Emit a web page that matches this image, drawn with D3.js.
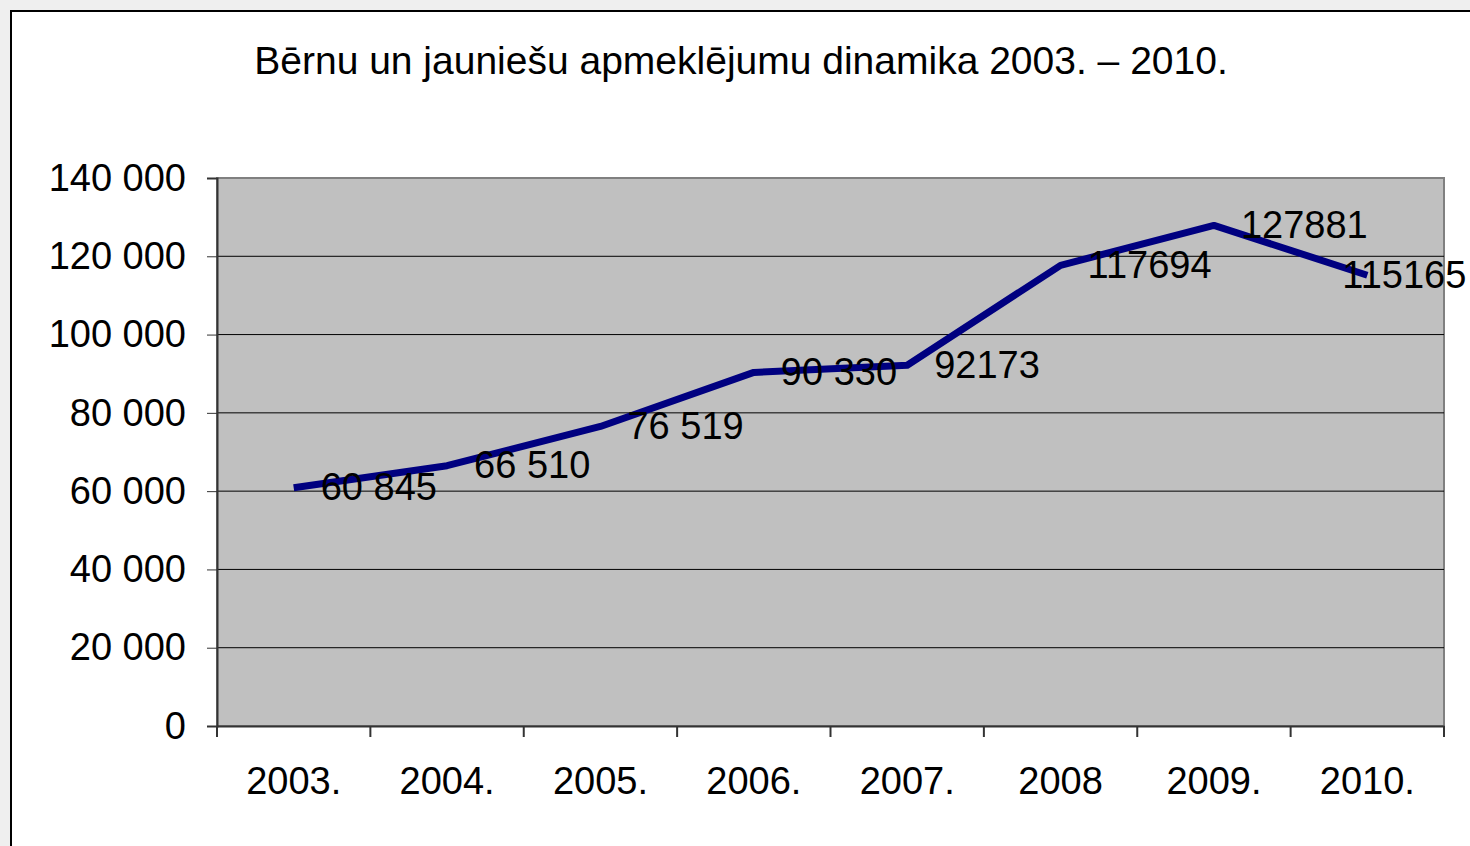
<!DOCTYPE html>
<html>
<head>
<meta charset="utf-8">
<script src="https://cdn.jsdelivr.net/npm/d3@7"></script>
<style>
  body { margin: 0; background: #efefef; }
  svg { display: block; }
</style>
</head>
<body>
<div id="chart"></div>
<script>
let years = ["2003.", "2004.", "2005.", "2006.", "2007.", "2008", "2009.", "2010."];
let visits = [60845, 66510, 76519, 90330, 92173, 117694, 127881, 115165];
let valueLabels = ["60 845", "66 510", "76 519", "90 330", "92173", "117694", "127881", "115165"];
let yTicks = [0, 20000, 40000, 60000, 80000, 100000, 120000, 140000];
let title = "Bērnu un jauniešu apmeklējumu dinamika 2003. – 2010.";

let width = 1470, height = 846;
let plot = {left: 217, right: 1444, top: 178, bottom: 726};

let svg = d3.select("#chart").append("svg")
    .attr("width", width)
    .attr("height", height)
    .style("font-family", "'Liberation Sans', Arial, sans-serif");

// chart frame
svg.append("rect")
    .attr("x", 11).attr("y", 11)
    .attr("width", width).attr("height", height)
    .attr("fill", "white")
    .attr("stroke", "black")
    .attr("stroke-width", 2);

svg.append("text")
    .attr("x", 741).attr("y", 74)
    .attr("text-anchor", "middle")
    .attr("font-size", 39)
    .text(title);

let x = d3.scaleBand()
    .domain(years)
    .range([plot.left, plot.right]);

let y = d3.scaleLinear()
    .domain([0, 140000])
    .range([plot.bottom, plot.top]);

// plot area
svg.append("rect")
    .attr("x", plot.left).attr("y", plot.top)
    .attr("width", plot.right - plot.left)
    .attr("height", plot.bottom - plot.top)
    .attr("fill", "#c0c0c0")
    .attr("stroke", "#808080")
    .attr("stroke-width", 2);

// gridlines
svg.append("g")
    .selectAll("line")
    .data(yTicks.filter(t => t > 0 && t < 140000))
    .join("line")
    .attr("x1", plot.left).attr("x2", plot.right)
    .attr("y1", d => y(d)).attr("y2", d => y(d))
    .attr("stroke", "black")
    .attr("stroke-width", 1);

let fmt = d => d3.format(",")(d).replace(/,/g, " ");

// y axis
let yAxis = svg.append("g")
    .attr("transform", `translate(${plot.left},0)`)
    .call(d3.axisLeft(y).tickValues(yTicks).tickFormat(fmt).tickSize(10).tickPadding(21));
yAxis.selectAll("text").attr("font-size", 38).attr("fill", "black").attr("font-family", "'Liberation Sans', Arial, sans-serif");
yAxis.selectAll("line").attr("stroke", "#333");
yAxis.select(".domain").attr("stroke", "#333").attr("stroke-width", 2);

// x axis with ticks at category boundaries
let xAxis = svg.append("g")
    .attr("transform", `translate(0,${plot.bottom})`)
    .call(d3.axisBottom(x).tickSize(0).tickPadding(41));
xAxis.selectAll("text").attr("font-size", 38).attr("fill", "black").attr("font-family", "'Liberation Sans', Arial, sans-serif");
xAxis.select(".domain").attr("stroke", "#333").attr("stroke-width", 2);

let boundaries = years.map(d => x(d)).concat([x(years[years.length - 1]) + x.bandwidth()]);
svg.append("g")
    .selectAll("line")
    .data(boundaries)
    .join("line")
    .attr("x1", d => d).attr("x2", d => d)
    .attr("y1", plot.bottom).attr("y2", plot.bottom + 11)
    .attr("stroke", "#333")
    .attr("stroke-width", 2);

// series line
let line = d3.line()
    .x((d, i) => x(years[i]) + x.bandwidth() / 2)
    .y(d => y(d));

svg.append("path")
    .datum(visits)
    .attr("d", line)
    .attr("fill", "none")
    .attr("stroke", "#000080")
    .attr("stroke-width", 7)
    .attr("stroke-linejoin", "round");

// data labels
svg.append("g")
    .selectAll("text")
    .data(visits)
    .join("text")
    .attr("x", (d, i) => {
        let cx = x(years[i]) + x.bandwidth() / 2;
        return i === visits.length - 1 ? cx - 25 : cx + 27;
    })
    .attr("y", d => y(d))
    .attr("dy", "0.33em")
    .attr("font-size", 38)
    .text((d, i) => valueLabels[i]);
</script>
</body>
</html>
